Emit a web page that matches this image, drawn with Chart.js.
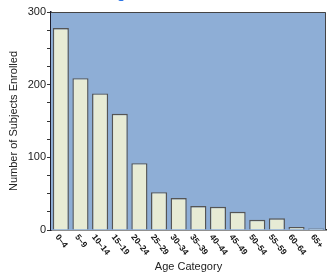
<!DOCTYPE html>
<html>
<head>
<meta charset="utf-8">
<script src="https://cdn.jsdelivr.net/npm/chart.js@4"></script>
<style>
  html, body { margin: 0; padding: 0; background: #fff; }
  #wrap { width: 329px; height: 275px; }
</style>
</head>
<body>
<div id="wrap"><canvas id="chart1" width="329" height="275"></canvas></div>
<script>
const chartTitle = 'Age Distribution';
const ageCategories = ['0\u20134', '5\u20139', '10\u201314', '15\u201319', '20\u201324', '25\u201329', '30\u201334',
    '35\u201339', '40\u201344', '45\u201349', '50\u201354', '55\u201359', '60\u201364', '65+'];
const subjectsEnrolled = [278, 209, 188, 160, 92, 52, 44, 33, 32, 25, 14, 16, 4, 2];
const yTickLabels = [0, 100, 200, 300];

const FONT = '"Liberation Sans", Arial, sans-serif';

// plot background, frame, rotated category labels and the clipped title
const frame = {
    id: 'frame',
    beforeDatasetsDraw(chart) {
        const { ctx, chartArea: a } = chart;
        ctx.save();
        ctx.fillStyle = '#8eaed6';
        ctx.fillRect(a.left, a.top, a.right - a.left, a.bottom - a.top);
        ctx.restore();
    },
    afterDatasetsDraw(chart) {
        const { ctx, chartArea: a } = chart;
        ctx.save();
        ctx.strokeStyle = '#444';
        ctx.lineWidth = 1;
        ctx.beginPath();
        ctx.moveTo(a.left, a.top + 0.5);
        ctx.lineTo(a.right - 0.5, a.top + 0.5);
        ctx.lineTo(a.right - 0.5, a.bottom);
        ctx.stroke();
        ctx.restore();
    },
    afterDraw(chart) {
        const { ctx } = chart;
        const x = chart.scales.x;
        const ang = 52 * Math.PI / 180;
        ctx.save();
        ctx.fillStyle = '#111';
        ctx.font = 'bold 8.5px ' + FONT;
        ctx.textAlign = 'center';
        ctx.textBaseline = 'middle';
        ageCategories.forEach((lab, i) => {
            const w = ctx.measureText(lab).width;
            const px = x.getPixelForTick(i);
            ctx.save();
            ctx.translate(px + 0.5, 235.5 + (w / 2) * Math.sin(ang));
            ctx.rotate(ang);
            ctx.fillText(lab, 0, 0);
            ctx.restore();
        });
        ctx.fillStyle = '#2a74e6';
        ctx.font = 'bold 14px ' + FONT;
        ctx.textAlign = 'left';
        ctx.textBaseline = 'alphabetic';
        ctx.fillText(chartTitle, 107, -2.5);
        ctx.restore();
    }
};

new Chart(document.getElementById('chart1'), {
    type: 'bar',
    data: {
        labels: ageCategories,
        datasets: [{
            data: subjectsEnrolled,
            backgroundColor: '#e7ebd5',
            borderColor: '#555',
            borderWidth: 1.4,
            barPercentage: 0.82,
            categoryPercentage: 1
        }]
    },
    options: {
        responsive: false,
        animation: false,
        devicePixelRatio: 1,
        layout: { padding: { top: 12, right: 3, left: 0, bottom: 0 } },
        plugins: { legend: { display: false }, tooltip: { enabled: false } },
        scales: {
            x: {
                afterFit(s) { s.height = 45; },
                grid: { display: false },
                border: { display: true, color: '#222', width: 1.5 },
                ticks: { display: false },
                title: {
                    display: true, text: 'Age Category', color: '#222',
                    font: { family: FONT, size: 11 }, padding: { top: 0, bottom: 1.5 }
                }
            },
            y: {
                min: 0, max: 300,
                afterFit(s) { s.width = 51; },
                grid: { drawOnChartArea: false, drawTicks: true, tickLength: 4, color: '#333' },
                border: { display: true, color: '#1c1c2c', width: 1.5 },
                ticks: {
                    stepSize: 25, padding: 1, color: '#222', autoSkip: false,
                    font: { family: FONT, size: 11 },
                    callback: v => yTickLabels.includes(v) ? String(v) : ''
                },
                title: {
                    display: true, text: 'Number of Subjects Enrolled', color: '#222',
                    font: { family: FONT, size: 11 }, padding: { top: 7.5, bottom: 0 }
                }
            }
        }
    },
    plugins: [frame]
});
</script>
</body>
</html>
